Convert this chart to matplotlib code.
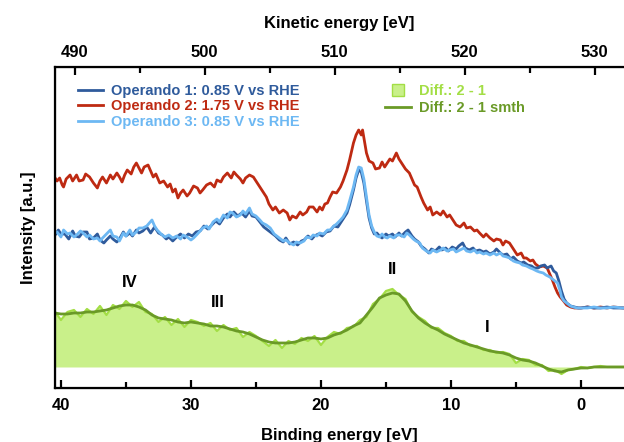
import matplotlib
matplotlib.use("Agg")
import matplotlib.pyplot as plt
from matplotlib.lines import Line2D
from matplotlib.ticker import MultipleLocator

plt.rcParams['font.family'] = ['Liberation Sans', 'DejaVu Sans']
plt.rcParams['font.weight'] = 'bold'

# (binding energy [eV], intensity [a.u.])
op2 = [(40.5, 190), (40.3, 186), (40.1, 189), (39.9, 182), (39.8, 180), (39.6, 188), (39.3, 192),
       (39.1, 186), (38.8, 192), (38.6, 186), (38.3, 187), (38.1, 193), (37.8, 190), (37.5, 184),
       (37.2, 179), (37.0, 186), (36.8, 190), (36.5, 184), (36.2, 192), (36.0, 188), (35.7, 194),
       (35.5, 190), (35.3, 185), (35.1, 192), (34.9, 197), (34.6, 193), (34.4, 200), (34.2, 204),
       (34.0, 199), (33.8, 194), (33.6, 200), (33.3, 202), (33.1, 196), (32.9, 190), (32.7, 193),
       (32.4, 184), (32.1, 186), (31.8, 180), (31.6, 183), (31.4, 175), (31.2, 178), (31.0, 169),
       (30.8, 174), (30.6, 177), (30.3, 171), (30.1, 174), (29.8, 181), (29.5, 179), (29.3, 174),
       (29.1, 177), (28.8, 182), (28.5, 184), (28.2, 180), (28.0, 187), (27.7, 185), (27.5, 190),
       (27.2, 194), (26.9, 189), (26.7, 195), (26.5, 192), (26.2, 188), (26.0, 184), (25.8, 189),
       (25.5, 192), (25.2, 190), (25.0, 186), (24.7, 180), (24.5, 176), (24.2, 170), (24.0, 163),
       (23.7, 157), (23.5, 160), (23.2, 154), (22.9, 157), (22.6, 154), (22.4, 147), (22.2, 151),
       (21.9, 149), (21.6, 155), (21.4, 152), (21.1, 155), (20.9, 160), (20.6, 160), (20.3, 155),
       (20.1, 160), (19.9, 157), (19.7, 163), (19.5, 164), (19.3, 170), (19.1, 175), (18.8, 174),
       (18.5, 180), (18.3, 186), (18.0, 197), (17.8, 207), (17.5, 224), (17.3, 232), (17.1, 237),
       (16.9, 232), (16.8, 237), (16.6, 222), (16.5, 214), (16.3, 206), (16.0, 204), (15.8, 198),
       (15.5, 199), (15.3, 205), (15.1, 200), (14.9, 204), (14.7, 208), (14.5, 206), (14.2, 214),
       (14.0, 208), (13.7, 202), (13.5, 198), (13.2, 194), (13.0, 188), (12.8, 182), (12.6, 180),
       (12.3, 170), (12.1, 164), (11.8, 157), (11.6, 160), (11.4, 152), (11.1, 155), (10.8, 152),
       (10.6, 156), (10.3, 150), (10.1, 152), (9.8, 146), (9.6, 142), (9.3, 140), (9.0, 144),
       (8.8, 139), (8.5, 140), (8.2, 136), (8.0, 137), (7.8, 134), (7.5, 130), (7.3, 133),
       (7.0, 129), (6.7, 126), (6.5, 128), (6.2, 127), (6.0, 122), (5.8, 126), (5.5, 124),
       (5.2, 118), (4.9, 112), (4.6, 114), (4.4, 109), (4.2, 109), (3.9, 106), (3.7, 107),
       (3.5, 103), (3.2, 100), (2.9, 101), (2.6, 99), (2.4, 93), (2.2, 87), (2.0, 80), (1.8, 74),
       (1.6, 70), (1.4, 67), (1.1, 62), (0.8, 60), (0.5, 59), (0.0, 59), (-0.5, 60), (-1.0, 59),
       (-1.5, 60), (-2.0, 59), (-2.5, 60), (-3.3, 59)]

op3 = [(40.5, 134), (40.3, 135), (40.0, 130), (39.8, 137), (39.5, 133), (39.3, 134), (39.0, 130),
       (38.8, 132), (38.5, 136), (38.3, 134), (38.0, 130), (37.8, 132), (37.5, 128), (37.2, 129),
       (37.0, 126), (36.8, 129), (36.5, 133), (36.2, 137), (36.0, 131), (35.7, 130), (35.5, 126),
       (35.2, 134), (35.0, 131), (34.7, 137), (34.5, 132), (34.2, 135), (34.0, 139), (33.7, 139),
       (33.4, 141), (33.2, 144), (33.0, 147), (32.8, 141), (32.6, 137), (32.3, 133), (32.0, 130),
       (31.7, 132), (31.4, 129), (31.1, 131), (30.8, 128), (30.6, 132), (30.3, 130), (30.0, 127),
       (29.8, 129), (29.5, 133), (29.3, 136), (29.1, 139), (28.8, 141), (28.6, 138), (28.3, 145),
       (28.0, 148), (27.8, 145), (27.5, 152), (27.2, 149), (27.0, 155), (26.8, 154), (26.5, 150),
       (26.2, 152), (26.0, 156), (25.8, 153), (25.5, 159), (25.3, 153), (25.0, 151), (24.7, 147),
       (24.5, 144), (24.2, 142), (23.9, 139), (23.6, 133), (23.4, 131), (23.2, 129), (22.9, 126),
       (22.7, 127), (22.4, 124), (22.1, 122), (21.9, 125), (21.6, 124), (21.3, 126), (21.1, 130),
       (20.8, 129), (20.6, 132), (20.3, 131), (20.1, 134), (19.8, 133), (19.5, 137), (19.3, 137),
       (19.0, 141), (18.8, 143), (18.5, 147), (18.3, 150), (18.0, 157), (17.8, 166), (17.5, 180),
       (17.3, 192), (17.1, 200), (16.9, 199), (16.7, 188), (16.5, 170), (16.3, 152), (16.1, 141),
       (15.9, 135), (15.7, 131), (15.5, 130), (15.3, 133), (15.1, 130), (14.9, 129), (14.7, 131),
       (14.4, 129), (14.2, 132), (13.9, 132), (13.6, 130), (13.4, 134), (13.2, 132), (12.9, 128),
       (12.7, 126), (12.4, 124), (12.2, 119), (11.9, 116), (11.6, 114), (11.4, 117), (11.1, 115),
       (10.8, 117), (10.6, 119), (10.3, 116), (10.1, 117), (9.8, 118), (9.6, 115), (9.3, 117),
       (9.0, 119), (8.8, 116), (8.5, 115), (8.2, 117), (8.0, 114), (7.8, 115), (7.5, 113),
       (7.3, 114), (7.0, 112), (6.7, 114), (6.5, 112), (6.2, 114), (6.0, 111), (5.7, 110),
       (5.5, 109), (5.2, 106), (5.0, 105), (4.7, 104), (4.5, 102), (4.2, 101), (3.9, 99),
       (3.7, 98), (3.4, 96), (3.2, 95), (2.9, 94), (2.7, 92), (2.4, 90), (2.2, 88), (2.0, 86),
       (1.8, 84), (1.6, 76), (1.5, 70), (1.3, 66), (1.1, 64), (0.8, 61), (0.6, 60), (0.3, 59),
       (0.0, 59), (-0.5, 59), (-1.0, 60), (-1.5, 59), (-2.0, 59), (-2.5, 60), (-3.3, 59)]

op1 = [(40.5, 131), (40.2, 137), (40.0, 133), (39.7, 133), (39.4, 128), (39.1, 136), (38.9, 131),
       (38.6, 130), (38.3, 135), (38.0, 135), (37.8, 128), (37.5, 129), (37.2, 133), (37.0, 127),
       (36.7, 124), (36.5, 127), (36.2, 131), (36.0, 128), (35.7, 125), (35.5, 128), (35.2, 135),
       (35.0, 131), (34.7, 134), (34.5, 131), (34.2, 137), (34.0, 134), (33.7, 136), (33.4, 140),
       (33.1, 134), (32.8, 140), (32.5, 134), (32.2, 132), (31.9, 128), (31.7, 130), (31.4, 126),
       (31.1, 130), (30.8, 133), (30.5, 129), (30.2, 133), (29.9, 131), (29.6, 135), (29.3, 136),
       (29.0, 141), (28.7, 138), (28.4, 142), (28.1, 146), (27.8, 143), (27.5, 149), (27.2, 153),
       (27.0, 150), (26.7, 155), (26.4, 151), (26.1, 154), (25.8, 150), (25.5, 156), (25.3, 151),
       (25.0, 150), (24.7, 145), (24.4, 140), (24.1, 137), (23.8, 134), (23.5, 131), (23.2, 127),
       (22.9, 125), (22.7, 129), (22.4, 123), (22.1, 125), (21.8, 122), (21.5, 126), (21.3, 127),
       (21.0, 131), (20.7, 128), (20.5, 131), (20.2, 133), (19.9, 131), (19.6, 135), (19.3, 136),
       (19.0, 141), (18.7, 140), (18.5, 144), (18.3, 148), (18.0, 154), (17.8, 162), (17.5, 177),
       (17.3, 189), (17.1, 197), (16.9, 195), (16.7, 184), (16.5, 166), (16.3, 149), (16.1, 139),
       (15.9, 133), (15.7, 134), (15.5, 131), (15.3, 129), (15.0, 133), (14.8, 131), (14.5, 133),
       (14.3, 130), (14.0, 134), (13.8, 131), (13.5, 135), (13.3, 137), (13.0, 131), (12.8, 128),
       (12.5, 125), (12.3, 121), (12.0, 118), (11.7, 114), (11.5, 118), (11.2, 116), (10.9, 120),
       (10.7, 117), (10.4, 119), (10.2, 116), (9.9, 120), (9.6, 118), (9.4, 121), (9.1, 124),
       (8.9, 119), (8.6, 117), (8.3, 119), (8.1, 116), (7.8, 117), (7.5, 115), (7.3, 116),
       (7.0, 113), (6.7, 115), (6.5, 118), (6.2, 114), (6.0, 112), (5.7, 113), (5.4, 108),
       (5.2, 110), (4.9, 106), (4.6, 104), (4.4, 105), (4.1, 102), (3.8, 101), (3.6, 99),
       (3.3, 99), (3.1, 101), (2.8, 102), (2.6, 99), (2.3, 101), (2.1, 96), (1.9, 94), (1.7, 86),
       (1.5, 76), (1.3, 68), (1.1, 64), (0.8, 61), (0.5, 60), (0.2, 59), (0.0, 59), (-0.5, 60),
       (-1.0, 59), (-1.5, 59), (-2.0, 60), (-2.5, 59), (-3.3, 59)]

# difference spectrum (2 - 1), raw and smoothed, on the same energy grid
diff_be = [40.5, 40.0, 39.5, 39.0, 38.5, 38.0, 37.5, 37.0, 36.5, 36.0, 35.5, 35.0, 34.5, 34.0, 33.5,
           33.0, 32.5, 32.0, 31.5, 31.0, 30.5, 30.0, 29.5, 29.0, 28.5, 28.0, 27.5, 27.0, 26.5, 26.0,
           25.5, 25.0, 24.5, 24.0, 23.5, 23.0, 22.5, 22.0, 21.5, 21.0, 20.5, 20.0, 19.5, 19.0, 18.5,
           18.0, 17.5, 17.0, 16.5, 16.0, 15.5, 15.0, 14.5, 14.0, 13.5, 13.0, 12.5, 12.0, 11.5, 11.0,
           10.5, 10.0, 9.5, 9.0, 8.5, 8.0, 7.5, 7.0, 6.5, 6.0, 5.5, 5.0, 4.5, 4.0, 3.5, 3.0,
           2.5, 2.0, 1.5, 1.0, 0.5, 0.0, -0.5, -1.0, -1.5, -2.0, -2.5, -3.0, -3.3]
diff_raw = [56, 47, 55, 57, 50, 58, 53, 61, 52, 62, 58, 66, 60, 65, 55,
            53, 45, 50, 42, 48, 40, 47, 45, 41, 44, 36, 42, 37, 39, 30,
            35, 31, 26, 21, 27, 19, 26, 23, 29, 26, 31, 22, 30, 35, 33,
            39, 40, 47, 50, 63, 68, 76, 78, 72, 68, 55, 50, 46, 39, 39,
            34, 31, 26, 26, 21, 21, 17, 17, 14, 15, 13, 4, 8, 7, 2, 2,
            -4, -3, -7, -3, -2, 0, -1, 0, 1, 0, 0, 0, 0]
diff_smth = [54, 53, 53, 54, 54, 55, 55, 56, 57, 59, 61, 62, 62, 60, 57,
             52, 49, 48, 47, 45, 44, 45, 44, 43, 41, 41, 40, 38, 36, 35,
             33, 30, 27, 25, 24, 24, 24, 25, 27, 29, 29, 28, 29, 32, 34,
             37, 41, 44, 52, 60, 69, 72, 74, 73, 66, 56, 49, 44, 40, 37,
             33, 30, 27, 24, 22, 20, 18, 16, 15, 14, 12, 9, 7, 6, 4, 1,
             -2, -4, -5, -3, -2, -1, -1, 0, 0, 0, 0, 0, 0]

peak_labels = ['IV', 'III', 'II', 'I']
peak_be = [34.7, 27.9, 14.5, 7.2]
peak_y = [84, 64, 97, 39]

# kinetic energy = KE_OFFSET - binding energy
KE_OFFSET = 528.95

c_op1 = '#2f5b9c'
c_op2 = '#be2a12'
c_op3 = '#6db8f3'
c_fill = '#c9f08a'
c_raw = '#a3de45'
c_smth = '#6a9a27'

fig = plt.figure(figsize=(6.24, 4.42), dpi=100)
ax = fig.add_axes([0.0881, 0.1222, 0.9119, 0.7262])

ax.fill_between(diff_be, diff_raw, 0, color=c_fill, lw=0)
ax.plot(diff_be, diff_raw, color=c_raw, lw=1.6)
ax.plot(diff_be, diff_smth, color=c_smth, lw=2.0)
for data, col in [(op2, c_op2), (op1, c_op1), (op3, c_op3)]:
    be, inten = zip(*data)
    ax.plot(be, inten, color=col, lw=2.0)

for lab, x, y in zip(peak_labels, peak_be, peak_y):
    ax.text(x, y, lab, ha='center', va='center', fontsize=12, fontweight='bold')

ax.set_xlim(40.46, -3.31)
ax.set_ylim(-21, 300)
ax.set_yticks([])
ax.spines['right'].set_visible(False)
for s in ['left', 'bottom', 'top']:
    ax.spines[s].set_linewidth(1.6)
ax.xaxis.set_major_locator(MultipleLocator(10))
ax.xaxis.set_minor_locator(MultipleLocator(5))
ax.tick_params(axis='x', which='both', direction='in', width=1.6, labelsize=12, pad=7)
ax.tick_params(axis='x', which='major', length=6)
ax.tick_params(axis='x', which='minor', length=4)
ax.set_xlabel('Binding energy [eV]', fontsize=12, fontweight='bold', labelpad=11)
ax.set_ylabel('Intensity [a.u.]', fontsize=12, fontweight='bold', labelpad=14)

top = ax.twiny()
top.set_xlim(KE_OFFSET - 40.46, KE_OFFSET + 3.31)
top.spines['right'].set_visible(False)
top.xaxis.set_major_locator(MultipleLocator(10))
top.xaxis.set_minor_locator(MultipleLocator(5))
top.tick_params(axis='x', which='both', direction='in', width=1.6, labelsize=12, pad=5)
top.tick_params(axis='x', which='major', length=6)
top.tick_params(axis='x', which='minor', length=4)
top.set_xlabel('Kinetic energy [eV]', fontsize=12, fontweight='bold', labelpad=12)
for t in ax.get_xticklabels() + top.get_xticklabels():
    t.set_fontweight('bold')

h1 = [Line2D([], [], color=c_op1, lw=2.0),
      Line2D([], [], color=c_op2, lw=2.0),
      Line2D([], [], color=c_op3, lw=2.0)]
lab1 = ['Operando 1: 0.85 V vs RHE', 'Operando 2: 1.75 V vs RHE', 'Operando 3: 0.85 V vs RHE']
leg1 = top.legend(h1, lab1, loc='upper left', bbox_to_anchor=(0.040, 0.948), frameon=False,
                  borderpad=0, borderaxespad=0, handlelength=1.75, handletextpad=0.55,
                  labelspacing=0.1, prop={'weight': 'bold', 'size': 10.5},
                  labelcolor=[c_op1, c_op2, c_op3])
top.add_artist(leg1)

h2 = [Line2D([], [], marker='s', markersize=8, markerfacecolor=c_fill, markeredgecolor=c_raw,
             linestyle='none'),
      Line2D([], [], color=c_smth, lw=2.0)]
lab2 = ['Diff.: 2 - 1', 'Diff.: 2 - 1 smth']
top.legend(h2, lab2, loc='upper left', bbox_to_anchor=(0.58, 0.948), frameon=False,
           borderpad=0, borderaxespad=0, handlelength=1.75, handletextpad=0.55,
           labelspacing=0.2, prop={'weight': 'bold', 'size': 10.5},
           labelcolor=[c_raw, c_smth])

fig.savefig('out.png', dpi=100)
